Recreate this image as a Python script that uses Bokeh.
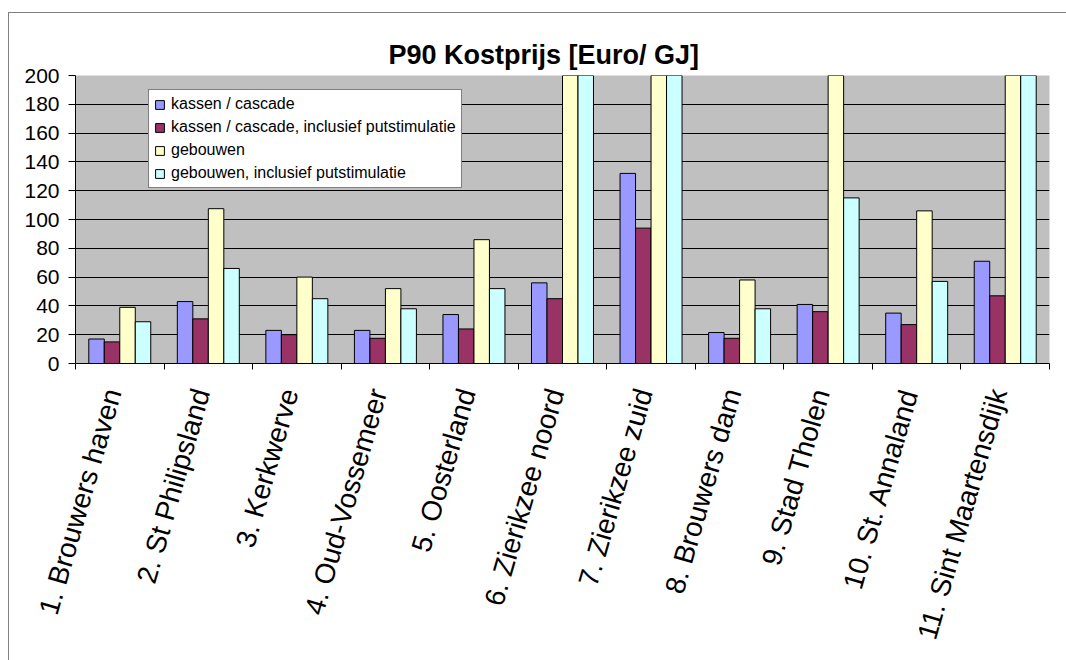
from bokeh.plotting import figure
from bokeh.models import (ColumnDataSource, Range1d, FixedTicker, Legend,
                          LegendItem)
from bokeh.transform import dodge
from bokeh.embed import file_html
from bokeh.resources import INLINE

# Locaties en kostprijzen (Euro/GJ), P90
locaties = [
    "1. Brouwers haven", "2. St Philipsland", "3. Kerkwerve", "4. Oud-Vossemeer",
    "5. Oosterland", "6. Zierikzee noord", "7. Zierikzee zuid", "8. Brouwers dam",
    "9. Stad Tholen", "10. St. Annaland", "11. Sint Maartensdijk",
]
kassen = [17, 43, 23, 23, 34, 56, 132, 21.5, 41, 35, 71]
kassen_put = [15, 31, 20, 17.5, 24, 45, 94, 17.5, 36, 27, 47]
gebouwen = [39, 107.5, 60, 52, 86, 260, 340, 58, 230, 106, 380]
gebouwen_put = [29, 66, 45, 38, 52, 215, 285, 38, 115, 57, 300]

reeksen = [
    ("kassen / cascade", "kassen", "#9999FF"),
    ("kassen / cascade, inclusief putstimulatie", "kassen_put", "#993366"),
    ("gebouwen", "gebouwen", "#FFFFCC"),
    ("gebouwen, inclusief putstimulatie", "gebouwen_put", "#CCFFFF"),
]
y_ticks = list(range(0, 201, 20))

FONT = "Liberation Sans"

src = ColumnDataSource(dict(
    x=[i + 0.5 for i in range(len(locaties))],
    kassen=kassen, kassen_put=kassen_put,
    gebouwen=gebouwen, gebouwen_put=gebouwen_put,
))

p = figure(
    width=1066, height=660,
    x_range=Range1d(0, len(locaties)), y_range=Range1d(0, 200),
    output_backend="svg", toolbar_location=None,
    min_border_left=75, min_border_right=17,
    min_border_top=75, min_border_bottom=297,
)
# Grijze rand van het grafiekgebied (boven en links) als achtergrond van het element
p.styles = {
    "background-color": "white",
    "background-image": "linear-gradient(#808080, #808080), linear-gradient(#808080, #808080)",
    "background-position": "8px 12px, 8px 12px",
    "background-size": "1px 100%, 100% 1px",
    "background-repeat": "no-repeat, no-repeat",
}
p.background_fill_color = "#C0C0C0"
p.border_fill_alpha = 0
p.outline_line_color = None

# Titel
p.title.text = "P90 Kostprijs [Euro/ GJ]"
p.title.text_font = FONT
p.title.text_font_size = "27px"
p.title.text_font_style = "bold"
p.title.text_color = "black"
p.title.align = "left"
p.title.offset = 313
p.title.standoff = 11

# Staven, vier per locatie
bar_w = 0.175
offsets = [-1.5 * bar_w, -0.5 * bar_w, 0.5 * bar_w, 1.5 * bar_w]
items = []
for (label, col, color), off in zip(reeksen, offsets):
    r = p.vbar(x=dodge("x", off, range=None), top=col, bottom=0, width=bar_w,
               source=src, fill_color=color, line_color="black", line_width=1)
    items.append(LegendItem(label=label, renderers=[r]))

# Y-as
p.yaxis.ticker = FixedTicker(ticks=y_ticks)
p.yaxis.axis_line_color = "black"
p.yaxis.major_tick_line_color = "black"
p.yaxis.major_tick_out = 7
p.yaxis.major_tick_in = 0
p.yaxis.minor_tick_line_color = None
p.yaxis.major_label_text_font = FONT
p.yaxis.major_label_text_font_size = "21px"
p.yaxis.major_label_text_color = "black"
p.yaxis.major_label_standoff = 9

p.ygrid.ticker = FixedTicker(ticks=y_ticks)
p.ygrid.grid_line_color = "black"
p.ygrid.grid_line_width = 1
p.xgrid.visible = False

# X-as: labels bij elke locatie, streepjes tussen de locaties
label_pos = [i + 0.42 for i in range(len(locaties))]
p.xaxis.ticker = FixedTicker(
    ticks=label_pos,
    minor_ticks=list(range(len(locaties) + 1)),
)
p.xaxis.major_label_overrides = {t: naam for t, naam in zip(label_pos, locaties)}
p.xaxis.axis_line_color = "black"
p.xaxis.major_tick_line_color = None
p.xaxis.major_tick_out = 0
p.xaxis.major_tick_in = 0
p.xaxis.minor_tick_line_color = "black"
p.xaxis.minor_tick_out = 6
p.xaxis.minor_tick_in = 0
p.xaxis.major_label_orientation = 1.29
p.xaxis.major_label_text_font = FONT
p.xaxis.major_label_text_font_size = "28px"
p.xaxis.major_label_text_color = "black"
p.xaxis.major_label_standoff = 20

legend = Legend(
    items=items, location=(73, 175),
    border_line_color="black", border_line_width=1,
    background_fill_color="white", background_fill_alpha=1,
    label_text_font=FONT, label_text_font_size="16px", label_text_color="black",
    glyph_width=11, glyph_height=11, label_standoff=6,
    padding=5, spacing=5, label_height=17, margin=0,
)
p.add_layout(legend)

open("out.html", "w").write(file_html(p, INLINE))
